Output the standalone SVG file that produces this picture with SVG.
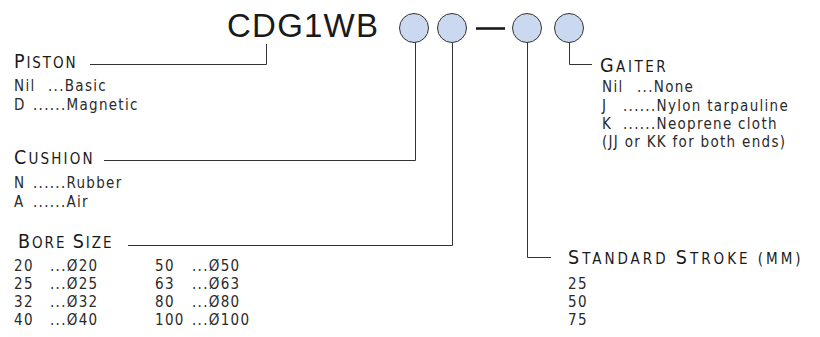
<svg xmlns="http://www.w3.org/2000/svg" width="820" height="337" viewBox="0 0 820 337">
<style>
text{font-family:"Liberation Sans Narrow","DejaVu Sans Condensed","Liberation Sans",Arial,sans-serif;font-stretch:condensed;fill:#2a2a2a}
.t{font-size:33px;font-family:"Liberation Sans",Arial,sans-serif;font-stretch:normal;fill:#1a1a1a}
.h{font-size:15px;letter-spacing:2.4px;fill:#1a1a1a}
.h .b{font-size:19.5px}
.l{font-size:15px;letter-spacing:1.3px}
.c{fill:#cad9ef;stroke:#333;stroke-width:1}
.w{fill:none;stroke:#333;stroke-width:1}
</style>
<rect width="820" height="337" fill="#fff"/>
<g id="code">
<text class="t" x="227" y="37" textLength="151" lengthAdjust="spacing">CDG1WB</text>
<circle class="c" cx="414" cy="28" r="14.5"/>
<circle class="c" cx="452" cy="28" r="14.5"/>
<line x1="476" y1="28.5" x2="505" y2="28.5" stroke="#1a1a1a" stroke-width="2.6"/>
<circle class="c" cx="527" cy="28" r="14.5"/>
<circle class="c" cx="569" cy="28" r="14.5"/>
</g>
<g id="connectors">
<polyline class="w" points="90,64.5 266.5,64.5 266.5,44"/>
<polyline class="w" points="104,160.5 415.5,160.5 415.5,42.5"/>
<polyline class="w" points="128,245.5 452.5,245.5 452.5,42.5"/>
<polyline class="w" points="569.5,42.5 569.5,64.5 592,64.5"/>
<polyline class="w" points="527.5,42.5 527.5,257.5 551,257.5"/>
</g>
<g id="piston">
<text class="h" x="14" y="68" textLength="64" lengthAdjust="spacing"><tspan class="b">P</tspan>ISTON</text>
<text class="l" y="91"><tspan x="14">Nil</tspan><tspan x="48">...Basic</tspan></text>
<text class="l" y="110"><tspan x="14">D</tspan><tspan x="33">......Magnetic</tspan></text>
</g>
<g id="cushion">
<text class="h" x="14" y="164" textLength="81" lengthAdjust="spacing"><tspan class="b">C</tspan>USHION</text>
<text class="l" y="188"><tspan x="14">N</tspan><tspan x="33">......Rubber</tspan></text>
<text class="l" y="207"><tspan x="14">A</tspan><tspan x="33">......Air</tspan></text>
</g>
<g id="bore">
<text class="h" x="18" y="248" textLength="96" lengthAdjust="spacing"><tspan class="b">B</tspan>ORE <tspan class="b">S</tspan>IZE</text>
<text class="l" y="271"><tspan x="14">20</tspan><tspan x="50">...Ø20</tspan><tspan x="155">50</tspan><tspan x="192">...Ø50</tspan></text>
<text class="l" y="289"><tspan x="14">25</tspan><tspan x="50">...Ø25</tspan><tspan x="155">63</tspan><tspan x="192">...Ø63</tspan></text>
<text class="l" y="307"><tspan x="14">32</tspan><tspan x="50">...Ø32</tspan><tspan x="155">80</tspan><tspan x="192">...Ø80</tspan></text>
<text class="l" y="325"><tspan x="14">40</tspan><tspan x="50">...Ø40</tspan><tspan x="155">100</tspan><tspan x="192">...Ø100</tspan></text>
</g>
<g id="gaiter">
<text class="h" x="600" y="72" textLength="68" lengthAdjust="spacing"><tspan class="b">G</tspan>AITER</text>
<text class="l" y="92"><tspan x="602">Nil</tspan><tspan x="637">...None</tspan></text>
<text class="l" y="111"><tspan x="602">J</tspan><tspan x="623">......Nylon tarpauline</tspan></text>
<text class="l" y="129"><tspan x="602">K</tspan><tspan x="623">......Neoprene cloth</tspan></text>
<text class="l" x="602" y="147">(JJ or KK for both ends)</text>
</g>
<g id="stroke">
<text class="h" x="568" y="264" textLength="235" lengthAdjust="spacing"><tspan class="b">S</tspan>TANDARD <tspan class="b">S</tspan>TROKE (MM)</text>
<text class="l" x="568" y="289">25</text>
<text class="l" x="568" y="307">50</text>
<text class="l" x="568" y="325">75</text>
</g>
</svg>
